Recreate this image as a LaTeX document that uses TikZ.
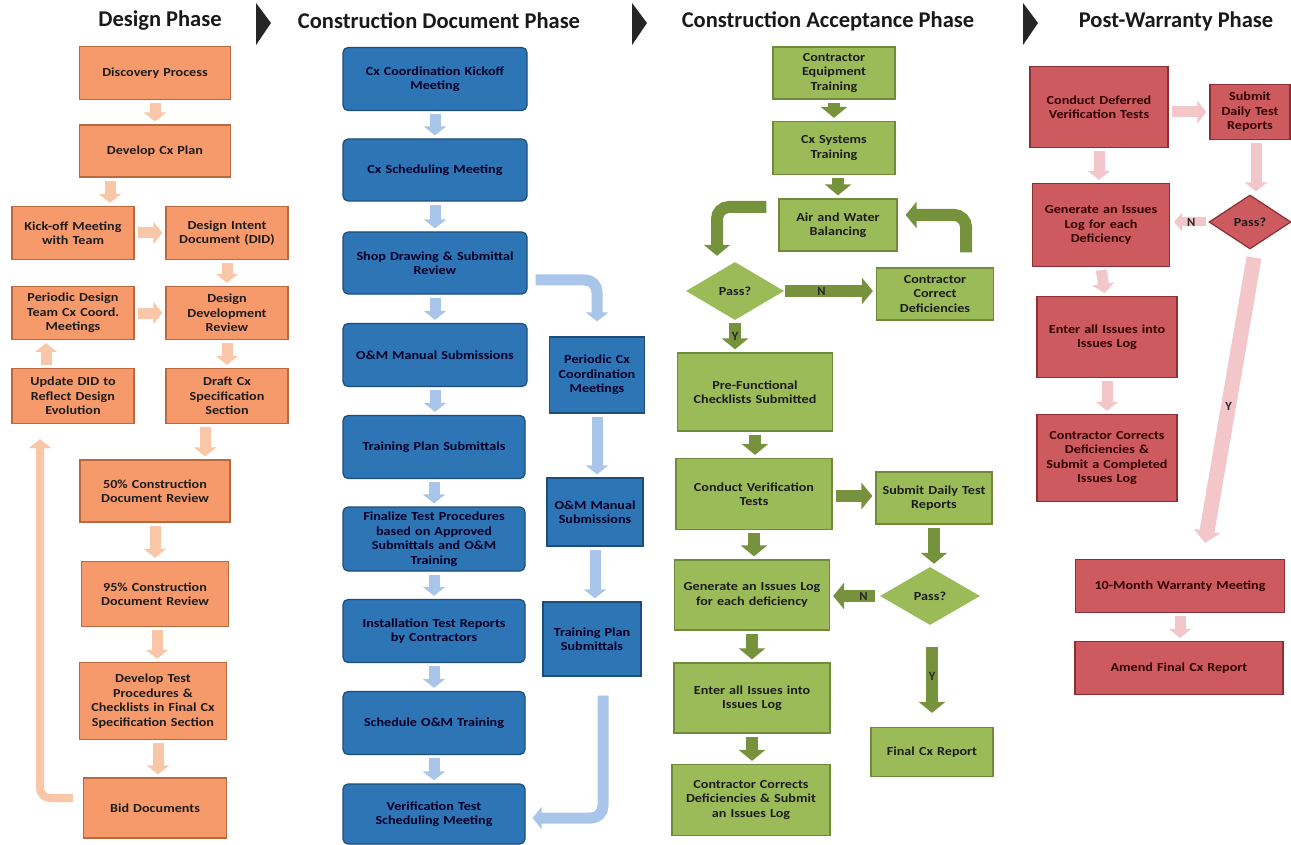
\documentclass[tikz,border=0pt]{standalone}
\usepackage{fontspec}
\setmainfont{Carlito}
\newfontfamily\boxfont{Carlito}[FakeStretch=1.15]
\usetikzlibrary{arrows.meta,shapes.geometric}
\definecolor{ofill}{HTML}{F79A6B}
\definecolor{oline}{HTML}{B8693E}
\definecolor{oarrc}{HTML}{F9C7A8}
\definecolor{bfill}{HTML}{2E75B6}
\definecolor{bline}{HTML}{1D4E7A}
\definecolor{barrc}{HTML}{A9C5E9}
\definecolor{gfill}{HTML}{9BBB59}
\definecolor{gline}{HTML}{6F8A3A}
\definecolor{garrc}{HTML}{76923C}
\definecolor{rfill}{HTML}{CC5A5F}
\definecolor{rline}{HTML}{8C2F35}
\definecolor{parrc}{HTML}{F3C6CA}
\definecolor{txt}{HTML}{1C1C1C}
\tikzset{
  sz/.style 2 args={minimum width=#1pt, minimum height=#2pt, text width=#1pt},
  base/.style={rectangle, inner sep=0pt, align=center, line width=1.2pt,
    font=\boxfont\bfseries\fontsize{12.3}{14.5}\selectfont, text=txt},
  obox/.style={base, fill=ofill, draw=oline},
  bbox/.style={base, fill=bfill, draw=bline, rounded corners=5pt, text=black!85!blue},
  bsq/.style={base, fill=bfill, draw=bline, text=black!85!blue},
  gbox/.style={base, fill=gfill, draw=gline},
  rbox/.style={base, fill=rfill, draw=rline, text=black!80!red},
  dia/.style 2 args={diamond, inner sep=0pt, minimum width=#1pt, minimum height=#2pt,
    font=\boxfont\bfseries\fontsize{12.3}{14.5}\selectfont, text=txt},
  title/.style={font=\bfseries\fontsize{22.5}{26}\selectfont, text=black!90},
  chev/.style={fill=black!85},
  lab/.style={font=\bfseries\fontsize{12.5}{14}\selectfont, text=black!85, inner sep=0pt},
  oarr/.style={draw=oarrc, line width=11pt, -{Triangle[width=22pt,length=9pt]},
    shorten <=3pt, shorten >=3pt},
  barr/.style={draw=barrc, line width=11pt, -{Triangle[width=22pt,length=9pt]},
    shorten <=3pt, shorten >=3pt},
  garr/.style={draw=garrc, line width=12pt, -{Triangle[width=26pt,length=11pt]},
    shorten <=3pt, shorten >=3pt},
  parr/.style={draw=parrc, line width=11pt, -{Triangle[width=22pt,length=9pt]},
    shorten <=3pt, shorten >=3pt},
}
\begin{document}
\begin{tikzpicture}[x=1pt,y=-1pt]
\useasboundingbox (0,0) rectangle (1291,845);
\fill[white] (0,0) rectangle (1291,845);

% titles and chevrons
\node[title] (t1) at (160,21) {Design Phase};
\node[title] (t2) at (439,21) {Construction Document Phase};
\node[title] (t3) at (828,21) {Construction Acceptance Phase};
\node[title] (t4) at (1176,21) {Post-Warranty Phase};
\fill[chev] (256,3) -- (271,23) -- (256,45) -- cycle;
\fill[chev] (632,3) -- (647,23) -- (632,45) -- cycle;
\fill[chev] (1023,3) -- (1038,23) -- (1023,45) -- cycle;

% ===== Design phase =====
\node[obox, sz={151}{53}] (disc) at (155,73) {Discovery Process};
\node[obox, sz={151}{52}] (plan) at (155,151) {Develop Cx Plan};
\node[obox, sz={122}{53}] (kick) at (73,233) {Kick-off Meeting\\with Team};
\node[obox, sz={122}{53}] (did) at (227,233) {Design Intent\\Document (DID)};
\node[obox, sz={122}{53}] (per) at (73,313) {Periodic Design\\Team Cx Coord.\\Meetings};
\node[obox, sz={122}{53}] (ddr) at (227,313) {Design\\Development\\Review};
\node[obox, sz={122}{55}] (upd) at (73,396) {Update DID to\\Reflect Design\\Evolution};
\node[obox, sz={122}{55}] (draft) at (227,396) {Draft Cx\\Specification\\Section};
\node[obox, sz={150}{62}] (cd50) at (155,491) {50\% Construction\\Document Review};
\node[obox, sz={147}{65}] (cd95) at (155,594) {95\% Construction\\Document Review};
\node[obox, sz={147}{77}] (dtp) at (153,701) {Develop Test\\Procedures \&\\Checklists in Final Cx\\Specification Section};
\node[obox, sz={143}{60}] (bid) at (155,808) {Bid Documents};

\draw[oarr] (disc.south) -- (plan.north);
\draw[oarr] ([xshift=-45pt]plan.south) -- ([xshift=-45pt]plan.south |- kick.north);
\draw[oarr] (kick.east) -- (did.west);
\draw[oarr] (did.south) -- (ddr.north);
\draw[oarr] (per.east) -- (ddr.west);
\draw[oarr] ([xshift=-27pt]upd.north) -- ([xshift=-27pt]per.south);
\draw[oarr] (ddr.south) -- (draft.north);
\draw[oarr] ([xshift=-22pt]draft.south) -- ([xshift=-22pt]draft.south |- cd50.north);
\draw[oarr] (cd50.south) -- (cd95.north);
\draw[oarr] ([xshift=2pt]cd95.south) -- ([xshift=2pt]cd95.south |- dtp.north);
\draw[oarr] ([xshift=5pt]dtp.south) -- ([xshift=5pt]dtp.south |- bid.north);
\draw[oarr, line width=8pt, rounded corners=10pt, shorten <=0pt]
  ([xshift=-10pt,yshift=10pt]bid.west) -| ([xshift=-33pt,yshift=-12pt]upd.south);

% ===== Construction document phase =====
\node[bbox, sz={184}{63}] (kom) at (435,79) {Cx Coordination Kickoff\\Meeting};
\node[bbox, sz={184}{62}] (sch) at (435,170) {Cx Scheduling Meeting};
\node[bbox, sz={184}{62}] (shop) at (435,263) {Shop Drawing \& Submittal\\Review};
\node[bbox, sz={184}{63}] (om) at (435,355) {O\&M Manual Submissions};
\node[bbox, sz={182}{63}] (tps) at (434,447) {Training Plan Submittals};
\node[bbox, sz={182}{64}] (fin) at (434,539) {Finalize Test Procedures\\based on Approved\\Submittals and O\&M\\Training};
\node[bbox, sz={182}{63}] (itr) at (434,631) {Installation Test Reports\\by Contractors};
\node[bbox, sz={182}{63}] (som) at (434,723) {Schedule O\&M Training};
\node[bbox, sz={182}{60}] (ver) at (434,814) {Verification Test\\Scheduling Meeting};
\node[bsq, sz={95}{76}] (pcm) at (597,375) {Periodic Cx\\Coordination\\Meetings};
\node[bsq, sz={96}{68}] (om2) at (595,512) {O\&M Manual\\Submissions};
\node[bsq, sz={98}{74}] (tp2) at (592,639) {Training Plan\\Submittals};

\draw[barr] (kom.south) -- (sch.north);
\draw[barr] (sch.south) -- (shop.north);
\draw[barr] (shop.south) -- (om.north);
\draw[barr] (om.south) -- (om.south |- tps.north);
\draw[barr] (tps.south) -- (fin.north);
\draw[barr] (fin.south) -- (itr.north);
\draw[barr] (itr.south) -- (som.north);
\draw[barr] (som.south) -- (ver.north);
\draw[barr, rounded corners=12pt, shorten <=0pt, shorten >=0pt]
  ([xshift=8pt,yshift=-17pt]shop.east) -| ([yshift=15pt]pcm.north);
\draw[barr] (pcm.south) -- (pcm.south |- om2.north);
\draw[barr] (om2.south) -- (om2.south |- tp2.north);
\draw[barr, rounded corners=12pt, shorten <=0pt, shorten >=0pt]
  ([xshift=11pt,yshift=-19pt]tp2.south) |- ([xshift=7pt,yshift=-4pt]ver.east);

% ===== Construction acceptance phase =====
\node[gbox, sz={122}{52}] (cet) at (834,73) {Contractor\\Equipment\\Training};
\node[gbox, sz={122}{53}] (cst) at (834,148) {Cx Systems\\Training};
\node[gbox, sz={118}{52}] (awb) at (838,225) {Air and Water\\Balancing};
\node[dia={98}{58}, fill=gfill] (pass1) at (735,291) {Pass?};
\node[gbox, sz={117}{52}] (ccd) at (935,294) {Contractor\\Correct\\Deficiencies};
\node[gbox, sz={155}{78}] (pfc) at (755,392) {Pre-Functional\\Checklists Submitted};
\node[gbox, sz={156}{71}] (cvt) at (754,494) {Conduct Verification\\Tests};
\node[gbox, sz={116}{52}] (sdr) at (934,498) {Submit Daily Test\\Reports};
\node[dia={100}{58}, fill=gfill] (pass2) at (930,596) {Pass?};
\node[gbox, sz={155}{70}] (gil) at (752,595) {Generate an Issues Log\\for each deficiency};
\node[gbox, sz={156}{70}] (eil) at (752,698) {Enter all Issues into\\Issues Log};
\node[gbox, sz={158}{71}] (ccs) at (751,800) {Contractor Corrects\\Deficiencies \& Submit\\an Issues Log};
\node[gbox, sz={122}{49}] (fcr) at (932,752) {Final Cx Report};

\draw[garr] (cet.south) -- (cst.north);
\draw[garr] ([xshift=4pt]cst.south) -- ([xshift=4pt]cst.south |- awb.north);
\draw[garr, rounded corners=12pt, shorten <=0pt, shorten >=0pt]
  ([xshift=-12pt,yshift=18pt]awb.west) -| ([xshift=-18pt,yshift=6pt]pass1.north);
\draw[garr, rounded corners=12pt, shorten <=0pt, shorten >=0pt]
  ([xshift=31pt,yshift=15pt]ccd.north) |- ([xshift=8pt,yshift=10pt]awb.east);
\draw[garr] ([xshift=-2pt]pass1.east) -- (pass1.east -| ccd.west)
  node[lab, pos=0.42] (n1) {N};
\draw[garr] (pass1.south) -- (pass1.south |- pfc.north)
  node[lab, midway] (y1) {Y};
\draw[garr] (pfc.south) -- (pfc.south |- cvt.north);
\draw[garr] ([yshift=-2pt]cvt.east) -- ([yshift=-2pt]cvt.east -| sdr.west);
\draw[garr] (cvt.south) -- (cvt.south |- gil.north);
\draw[garr] (sdr.south) -- (sdr.south |- pass2.north);
\draw[garr] ([xshift=-2pt]pass2.west) -- (pass2.west -| gil.east)
  node[lab, pos=0.3] (n2) {N};
\draw[garr, shorten <=22pt, shorten >=14pt] ([xshift=2pt]pass2.south) -- ([xshift=2pt]pass2.south |- fcr.north)
  node[lab, pos=0.5] (y2) {Y};
\draw[garr] (gil.south) -- (eil.north);
\draw[garr] (eil.south) -- (eil.south |- ccs.north);

% ===== Post-warranty phase =====
\node[rbox, sz={138}{81}] (cdv) at (1099,107) {Conduct Deferred\\Verification Tests};
\node[rbox, sz={80}{55}] (psd) at (1250,112) {Submit\\Daily Test\\Reports};
\node[rbox, sz={137}{83}] (gen3) at (1101,225) {Generate an Issues\\Log for each\\Deficiency};
\node[dia={82}{54}, fill=rfill, draw=rline, line width=1.2pt] (pass3) at (1250,222) {Pass?};
\node[rbox, sz={140}{81}] (ent3) at (1107,337) {Enter all Issues into\\Issues Log};
\node[rbox, sz={140}{87}] (ccr) at (1107,458) {Contractor Corrects\\Deficiencies \&\\Submit a Completed\\Issues Log};
\node[rbox, sz={209}{53}] (war) at (1180,586) {10-Month Warranty Meeting};
\node[rbox, sz={208}{53}] (amd) at (1179,668) {Amend Final Cx Report};

\draw[parr] ([yshift=-5pt]cdv.east) -- ([yshift=-5pt]cdv.east -| psd.west);
\draw[parr] (cdv.south) -- (cdv.south |- gen3.north);
\draw[parr] ([xshift=6pt]psd.south) -- ([xshift=6pt]psd.south |- pass3.north);
\draw[parr, line width=9pt, -{Triangle[width=18pt,length=8pt]}, shorten <=2pt, shorten >=4pt]
  (pass3.west) -- (pass3.west -| gen3.east)
  node[lab, pos=0.45] (n3) {N};
\draw[parr] (gen3.south) -- ([xshift=4pt]gen3.south |- ent3.north);
\draw[parr] (ent3.south) -- (ent3.south |- ccr.north);
\draw[parr, line width=15pt, -{Triangle[width=26pt,length=12pt]}, shorten <=0pt, shorten >=0pt]
  ([xshift=4pt,yshift=-8pt]pass3.south) -- ([xshift=25pt,yshift=16pt]war.north)
  node[lab, pos=0.52] (y3) {Y};
\draw[parr] (war.south) -- (war.south |- amd.north);
\end{tikzpicture}
\end{document}
